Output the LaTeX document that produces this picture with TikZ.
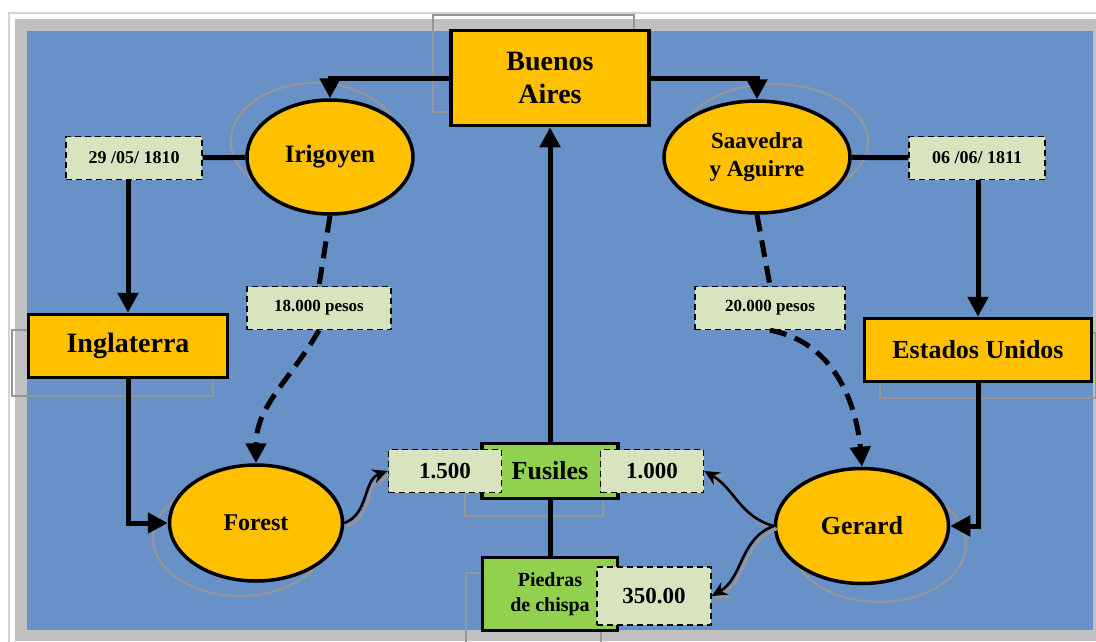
\documentclass[tikz,border=0pt]{standalone}
\usepackage{fontspec}
\setmainfont{Liberation Serif}
\usetikzlibrary{arrows.meta,shapes.geometric,calc}
\definecolor{mpgold}{HTML}{FFC000}
\definecolor{mpsage}{HTML}{D7E4BD}
\definecolor{mpgreen}{HTML}{92D050}
\definecolor{mpsky}{HTML}{6891C8}
\definecolor{mpframe}{HTML}{C0C0C0}
\definecolor{mpedge}{HTML}{D4D4D4}
\definecolor{mpghost}{HTML}{969696}
\newcommand{\sz}[2]{\fontsize{#1}{#2}\selectfont}
\tikzset{
  place/.style ={rectangle, draw=black, line width=3.5pt, fill=mpgold,
                 inner sep=0pt, align=center, font=\bfseries},
  agent/.style ={ellipse, draw=black, line width=3.5pt, fill=mpgold,
                 inner sep=0pt, align=center, font=\bfseries},
  tag/.style   ={rectangle, draw=black, line width=1.6pt, dash pattern=on 6pt off 4pt,
                 fill=mpsage, inner sep=0pt, align=center, font=\bfseries},
  goods/.style ={rectangle, draw=black, line width=3.5pt, fill=mpgreen,
                 inner sep=0pt, align=center, font=\bfseries},
  ghost/.style ={draw=mpghost, line width=2.2pt},
  link/.style  ={line width=5pt},
  flow/.style  ={link, -{Triangle[length=20pt,width=20pt]}},
  pay/.style   ={link, dash pattern=on 17pt off 9pt},
  hand/.style  ={-{Stealth[length=15pt,width=14pt]}, line width=2.6pt},
  handshade/.style={hand, mpghost, transform canvas={shift={(3pt,-3pt)}}},
}

\begin{document}
\begin{tikzpicture}[x=1pt,y=1pt]
  % frame and panel
  \useasboundingbox[fill=white] (0,0) rectangle (1096,-641);
  \draw[mpedge, line width=2pt] (9,-13) rectangle (1110,-660);
  \fill[mpframe] (15,-19) rectangle (1096,-641);
  \fill[mpsky] (27,-31) rectangle (1093,-630);
  % shadow outlines
  \draw[ghost] (433,-15) rectangle (634,-112);
  \draw[ghost] (12,-330) rectangle (213,-396);
  \draw[ghost] (880,-333) rectangle (1096,-398);
  \draw[ghost] (465,-459) rectangle (603,-516);
  \draw[ghost] (466,-573) rectangle (601,-645);
  \draw[ghost] (315,-141) ellipse [x radius=84, y radius=58];
  \draw[ghost] (774,-142) ellipse [x radius=94, y radius=58];
  \draw[ghost] (240,-538) ellipse [x radius=87, y radius=58];
  \draw[ghost] (879,-544) ellipse [x radius=87, y radius=58];

  % places
  \node[place, minimum width=198, minimum height=95, font=\bfseries\sz{28}{33}]
       (ba) at (550,-78) {Buenos\\Aires};
  \node[place, minimum width=199, minimum height=63, font=\bfseries\sz{28}{33}]
       (ingl) at (128,-346) {Inglaterra};
  \node[place, minimum width=227, minimum height=63, font=\bfseries\sz{26}{30}]
       (eeuu) at (978,-350) {Estados Unidos};
  % agents
  \node[agent, minimum width=166, minimum height=114, font=\bfseries\sz{25}{29}]
       (irig) at (330,-157) {Irigoyen};
  \node[agent, minimum width=186, minimum height=112, font=\bfseries\sz{23}{28}]
       (saav) at (757,-157) {Saavedra\\y Aguirre};
  \node[agent, minimum width=173, minimum height=116, font=\bfseries\sz{24}{28}]
       (forest) at (256,-523) {Forest};
  \node[agent, minimum width=173, minimum height=115, font=\bfseries\sz{26}{30}]
       (gerard) at (862,-526) {Gerard};
  % dates and payments
  \node[tag, minimum width=136, minimum height=43, font=\bfseries\sz{18}{21}]
       (date1) at (134,-158) {29 /05/ 1810};
  \node[tag, minimum width=136, minimum height=43, font=\bfseries\sz{18}{21}]
       (date2) at (977,-158) {06 /06/ 1811};
  \node[tag, minimum width=144, minimum height=43, font=\bfseries\sz{17}{20}]
       (p18) at (319,-308) {18.000 pesos};
  \node[tag, minimum width=150, minimum height=43, font=\bfseries\sz{17}{20}]
       (p20) at (770,-308) {20.000 pesos};
  % goods
  \node[goods, minimum width=136, minimum height=55, font=\bfseries\sz{26}{30}]
       (fus) at (550,-471) {Fusiles};
  \node[goods, minimum width=135, minimum height=73, font=\bfseries\sz{20}{25}]
       (piedras) at (550,-594) {Piedras\\de chispa};
  \node[tag, minimum width=113, minimum height=43, font=\bfseries\sz{23}{27}]
       (v1500) at (445,-471) {1.500};
  \node[tag, minimum width=103, minimum height=43, font=\bfseries\sz{23}{27}]
       (v1000) at (652,-471) {1.000};
  \node[tag, minimum width=114, minimum height=58, font=\bfseries\sz{23}{27}]
       (v350) at (654,-596) {350.00};

  % connectors
  \draw[flow] (ba.west) -| (irig.north);
  \draw[flow] (ba.east) -| (saav.north);
  \draw[link] (date1) -- (irig);
  \draw[link] (date2) -- (saav);
  \draw[flow] (ingl.north |- date1.south) -- (ingl.north);
  \draw[flow] (eeuu.north |- date2.south) -- (eeuu.north);
  \draw[flow] (ingl.south) |- (forest.west);
  \draw[flow] (eeuu.south) |- (gerard.east);
  \draw[flow] (fus.north) -- (ba.south);
  \draw[link] (fus.south) -- (piedras.north);
  \draw[pay] (irig.south) -- (p18.north);
  \draw[pay] (saav.south) -- (p20.north);
  \draw[pay, -{Triangle[length=20pt,width=20pt]}] (p18.south) to[out=240,in=90] (forest.north);
  \draw[pay, -{Triangle[length=20pt,width=20pt]}] (p20.south) to[out=-10,in=95] (gerard.north);
  % hand-over arrows, with their grey shade
  \draw[handshade] (forest.east) to[out=20,in=200] (v1500.west);
  \draw[handshade] (gerard.west) to[out=165,in=-30] (v1000.east);
  \draw[handshade] (gerard.west) to[out=200,in=30] (v350.east);
  \draw[hand] (forest.east) to[out=20,in=200] (v1500.west);
  \draw[hand] (gerard.west) to[out=165,in=-30] (v1000.east);
  \draw[hand] (gerard.west) to[out=200,in=30] (v350.east);
\end{tikzpicture}
\end{document}
